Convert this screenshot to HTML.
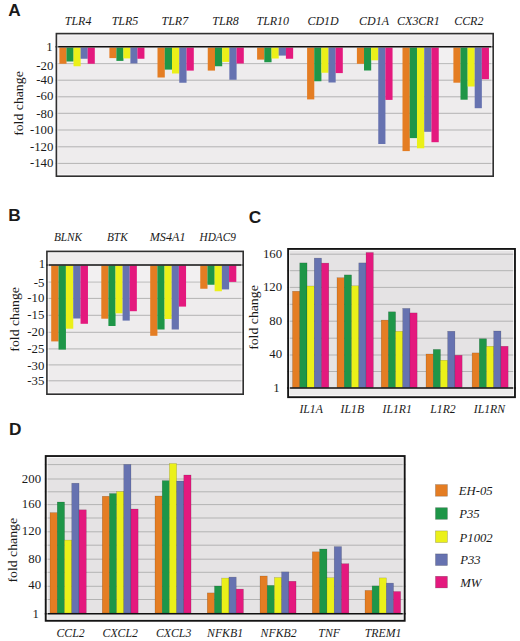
<!DOCTYPE html>
<html><head><meta charset="utf-8"><title>Fold change charts</title>
<style>
html,body{margin:0;padding:0;background:#fff;}
body{width:520px;height:641px;overflow:hidden;font-family:"Liberation Serif", serif;}
svg{display:block;}
text{fill:#1a1a1a;}
</style></head>
<body>
<svg width="520" height="641" viewBox="0 0 520 641">
<rect x="55.60" y="32.80" width="438.40" height="144.20" fill="#eeeced" />
<line x1="55.60" y1="63.60" x2="494.00" y2="63.60" stroke="#b3b3b3" stroke-width="1"/>
<line x1="55.60" y1="80.20" x2="494.00" y2="80.20" stroke="#b3b3b3" stroke-width="1"/>
<line x1="55.60" y1="96.80" x2="494.00" y2="96.80" stroke="#b3b3b3" stroke-width="1"/>
<line x1="55.60" y1="113.30" x2="494.00" y2="113.30" stroke="#b3b3b3" stroke-width="1"/>
<line x1="55.60" y1="130.00" x2="494.00" y2="130.00" stroke="#b3b3b3" stroke-width="1"/>
<line x1="55.60" y1="146.80" x2="494.00" y2="146.80" stroke="#b3b3b3" stroke-width="1"/>
<line x1="55.60" y1="163.40" x2="494.00" y2="163.40" stroke="#b3b3b3" stroke-width="1"/>
<rect x="55.60" y="47.60" width="438.40" height="15.50" fill="#f2f0f1" />
<rect x="59.40" y="47.60" width="7.12" height="16.15" fill="#e47d23" />
<rect x="66.47" y="47.60" width="7.12" height="13.90" fill="#1e9648" />
<rect x="73.54" y="47.60" width="7.12" height="18.65" fill="#ebf019" />
<rect x="80.61" y="47.60" width="7.12" height="11.15" fill="#6672b0" />
<rect x="87.68" y="47.60" width="7.12" height="16.15" fill="#e4197e" />
<rect x="109.40" y="47.60" width="7.05" height="10.50" fill="#e47d23" />
<rect x="116.40" y="47.60" width="7.05" height="13.30" fill="#1e9648" />
<rect x="123.40" y="47.60" width="7.05" height="10.80" fill="#ebf019" />
<rect x="130.40" y="47.60" width="7.05" height="15.80" fill="#6672b0" />
<rect x="137.40" y="47.60" width="7.05" height="11.15" fill="#e4197e" />
<rect x="157.50" y="47.60" width="7.30" height="29.90" fill="#e47d23" />
<rect x="164.75" y="47.60" width="7.30" height="22.00" fill="#1e9648" />
<rect x="172.00" y="47.60" width="7.30" height="25.90" fill="#ebf019" />
<rect x="179.25" y="47.60" width="7.30" height="35.15" fill="#6672b0" />
<rect x="186.50" y="47.60" width="7.30" height="23.00" fill="#e4197e" />
<rect x="207.75" y="47.60" width="7.25" height="23.00" fill="#e47d23" />
<rect x="214.95" y="47.60" width="7.25" height="18.65" fill="#1e9648" />
<rect x="222.15" y="47.60" width="7.25" height="14.30" fill="#ebf019" />
<rect x="229.35" y="47.60" width="7.25" height="32.15" fill="#6672b0" />
<rect x="236.55" y="47.60" width="7.25" height="15.90" fill="#e4197e" />
<rect x="257.10" y="47.60" width="7.25" height="12.00" fill="#e47d23" />
<rect x="264.30" y="47.60" width="7.25" height="14.65" fill="#1e9648" />
<rect x="271.50" y="47.60" width="7.25" height="10.90" fill="#ebf019" />
<rect x="278.70" y="47.60" width="7.25" height="8.00" fill="#6672b0" />
<rect x="285.90" y="47.60" width="7.25" height="11.15" fill="#e4197e" />
<rect x="307.10" y="47.60" width="7.18" height="51.80" fill="#e47d23" />
<rect x="314.23" y="47.60" width="7.18" height="33.65" fill="#1e9648" />
<rect x="321.36" y="47.60" width="7.18" height="25.15" fill="#ebf019" />
<rect x="328.49" y="47.60" width="7.18" height="34.90" fill="#6672b0" />
<rect x="335.62" y="47.60" width="7.18" height="25.50" fill="#e4197e" />
<rect x="356.90" y="47.60" width="7.17" height="16.20" fill="#e47d23" />
<rect x="364.02" y="47.60" width="7.17" height="22.90" fill="#1e9648" />
<rect x="371.14" y="47.60" width="7.17" height="12.70" fill="#ebf019" />
<rect x="378.26" y="47.60" width="7.17" height="96.40" fill="#6672b0" />
<rect x="385.38" y="47.60" width="7.17" height="52.30" fill="#e4197e" />
<rect x="402.50" y="47.60" width="7.29" height="103.50" fill="#e47d23" />
<rect x="409.74" y="47.60" width="7.29" height="90.50" fill="#1e9648" />
<rect x="416.98" y="47.60" width="7.29" height="100.70" fill="#ebf019" />
<rect x="424.22" y="47.60" width="7.29" height="84.20" fill="#6672b0" />
<rect x="431.46" y="47.60" width="7.29" height="94.60" fill="#e4197e" />
<rect x="453.40" y="47.60" width="7.15" height="35.10" fill="#e47d23" />
<rect x="460.50" y="47.60" width="7.15" height="52.10" fill="#1e9648" />
<rect x="467.60" y="47.60" width="7.15" height="38.90" fill="#ebf019" />
<rect x="474.70" y="47.60" width="7.15" height="60.60" fill="#6672b0" />
<rect x="481.80" y="47.60" width="7.15" height="31.60" fill="#e4197e" />
<line x1="55.60" y1="46.80" x2="494.00" y2="46.80" stroke="#111" stroke-width="1.6"/>
<rect x="57.70" y="34.90" width="434.20" height="140.00" fill="none" stroke="rgba(255,255,255,0.75)" stroke-width="1"/>
<rect x="56.40" y="33.60" width="436.80" height="142.60" fill="none" stroke="#303030" stroke-width="1.6"/>
<rect x="46.10" y="250.60" width="197.90" height="144.40" fill="#eeeced" />
<line x1="46.10" y1="282.00" x2="244.00" y2="282.00" stroke="#b3b3b3" stroke-width="1"/>
<line x1="46.10" y1="298.40" x2="244.00" y2="298.40" stroke="#b3b3b3" stroke-width="1"/>
<line x1="46.10" y1="315.30" x2="244.00" y2="315.30" stroke="#b3b3b3" stroke-width="1"/>
<line x1="46.10" y1="332.30" x2="244.00" y2="332.30" stroke="#b3b3b3" stroke-width="1"/>
<line x1="46.10" y1="348.90" x2="244.00" y2="348.90" stroke="#b3b3b3" stroke-width="1"/>
<line x1="46.10" y1="364.90" x2="244.00" y2="364.90" stroke="#b3b3b3" stroke-width="1"/>
<line x1="46.10" y1="380.80" x2="244.00" y2="380.80" stroke="#b3b3b3" stroke-width="1"/>
<rect x="46.10" y="265.80" width="197.90" height="15.50" fill="#f2f0f1" />
<rect x="51.20" y="265.60" width="7.39" height="75.80" fill="#e47d23" />
<rect x="58.54" y="265.60" width="7.39" height="84.00" fill="#1e9648" />
<rect x="65.88" y="265.60" width="7.39" height="63.10" fill="#ebf019" />
<rect x="73.22" y="265.60" width="7.39" height="52.90" fill="#6672b0" />
<rect x="80.56" y="265.60" width="7.39" height="58.20" fill="#e4197e" />
<rect x="101.30" y="265.60" width="7.15" height="53.10" fill="#e47d23" />
<rect x="108.40" y="265.60" width="7.15" height="60.40" fill="#1e9648" />
<rect x="115.50" y="265.60" width="7.15" height="47.70" fill="#ebf019" />
<rect x="122.60" y="265.60" width="7.15" height="55.00" fill="#6672b0" />
<rect x="129.70" y="265.60" width="7.15" height="45.60" fill="#e4197e" />
<rect x="150.20" y="265.60" width="7.21" height="70.20" fill="#e47d23" />
<rect x="157.36" y="265.60" width="7.21" height="63.90" fill="#1e9648" />
<rect x="164.52" y="265.60" width="7.21" height="53.40" fill="#ebf019" />
<rect x="171.68" y="265.60" width="7.21" height="63.90" fill="#6672b0" />
<rect x="178.84" y="265.60" width="7.21" height="41.00" fill="#e4197e" />
<rect x="200.25" y="265.60" width="7.25" height="23.15" fill="#e47d23" />
<rect x="207.45" y="265.60" width="7.25" height="19.15" fill="#1e9648" />
<rect x="214.65" y="265.60" width="7.25" height="25.65" fill="#ebf019" />
<rect x="221.85" y="265.60" width="7.25" height="23.80" fill="#6672b0" />
<rect x="229.05" y="265.60" width="7.25" height="16.30" fill="#e4197e" />
<line x1="46.10" y1="265.00" x2="244.00" y2="265.00" stroke="#111" stroke-width="1.7"/>
<rect x="48.20" y="252.70" width="193.70" height="140.20" fill="none" stroke="rgba(255,255,255,0.75)" stroke-width="1"/>
<rect x="46.90" y="251.40" width="196.30" height="142.80" fill="none" stroke="#303030" stroke-width="1.6"/>
<rect x="287.20" y="248.00" width="228.70" height="150.10" fill="#e5e3e4" />
<line x1="287.20" y1="254.20" x2="515.90" y2="254.20" stroke="#b3b3b3" stroke-width="1"/>
<line x1="287.20" y1="270.70" x2="515.90" y2="270.70" stroke="#b3b3b3" stroke-width="1"/>
<line x1="287.20" y1="287.40" x2="515.90" y2="287.40" stroke="#b3b3b3" stroke-width="1"/>
<line x1="287.20" y1="304.30" x2="515.90" y2="304.30" stroke="#b3b3b3" stroke-width="1"/>
<line x1="287.20" y1="321.20" x2="515.90" y2="321.20" stroke="#b3b3b3" stroke-width="1"/>
<line x1="287.20" y1="338.20" x2="515.90" y2="338.20" stroke="#b3b3b3" stroke-width="1"/>
<line x1="287.20" y1="355.00" x2="515.90" y2="355.00" stroke="#b3b3b3" stroke-width="1"/>
<line x1="287.20" y1="371.50" x2="515.90" y2="371.50" stroke="#b3b3b3" stroke-width="1"/>
<rect x="292.50" y="291.25" width="7.30" height="96.35" fill="#e47d23" stroke="rgba(0,0,0,0.25)" stroke-width="0.5"/>
<rect x="299.75" y="262.90" width="7.30" height="124.70" fill="#1e9648" stroke="rgba(0,0,0,0.25)" stroke-width="0.5"/>
<rect x="307.00" y="286.00" width="7.30" height="101.60" fill="#ebf019" stroke="rgba(0,0,0,0.25)" stroke-width="0.5"/>
<rect x="314.25" y="258.10" width="7.30" height="129.50" fill="#6672b0" stroke="rgba(0,0,0,0.25)" stroke-width="0.5"/>
<rect x="321.50" y="263.10" width="7.30" height="124.50" fill="#e4197e" stroke="rgba(0,0,0,0.25)" stroke-width="0.5"/>
<rect x="337.00" y="277.70" width="7.31" height="109.90" fill="#e47d23" stroke="rgba(0,0,0,0.25)" stroke-width="0.5"/>
<rect x="344.26" y="274.90" width="7.31" height="112.70" fill="#1e9648" stroke="rgba(0,0,0,0.25)" stroke-width="0.5"/>
<rect x="351.52" y="285.80" width="7.31" height="101.80" fill="#ebf019" stroke="rgba(0,0,0,0.25)" stroke-width="0.5"/>
<rect x="358.78" y="262.90" width="7.31" height="124.70" fill="#6672b0" stroke="rgba(0,0,0,0.25)" stroke-width="0.5"/>
<rect x="366.04" y="252.50" width="7.31" height="135.10" fill="#e4197e" stroke="rgba(0,0,0,0.25)" stroke-width="0.5"/>
<rect x="381.20" y="320.10" width="7.23" height="67.50" fill="#e47d23" stroke="rgba(0,0,0,0.25)" stroke-width="0.5"/>
<rect x="388.38" y="311.80" width="7.23" height="75.80" fill="#1e9648" stroke="rgba(0,0,0,0.25)" stroke-width="0.5"/>
<rect x="395.56" y="331.30" width="7.23" height="56.30" fill="#ebf019" stroke="rgba(0,0,0,0.25)" stroke-width="0.5"/>
<rect x="402.74" y="308.40" width="7.23" height="79.20" fill="#6672b0" stroke="rgba(0,0,0,0.25)" stroke-width="0.5"/>
<rect x="409.92" y="312.90" width="7.23" height="74.70" fill="#e4197e" stroke="rgba(0,0,0,0.25)" stroke-width="0.5"/>
<rect x="426.00" y="354.00" width="7.27" height="33.60" fill="#e47d23" stroke="rgba(0,0,0,0.25)" stroke-width="0.5"/>
<rect x="433.22" y="349.40" width="7.27" height="38.20" fill="#1e9648" stroke="rgba(0,0,0,0.25)" stroke-width="0.5"/>
<rect x="440.44" y="360.25" width="7.27" height="27.35" fill="#ebf019" stroke="rgba(0,0,0,0.25)" stroke-width="0.5"/>
<rect x="447.66" y="331.25" width="7.27" height="56.35" fill="#6672b0" stroke="rgba(0,0,0,0.25)" stroke-width="0.5"/>
<rect x="454.88" y="355.25" width="7.27" height="32.35" fill="#e4197e" stroke="rgba(0,0,0,0.25)" stroke-width="0.5"/>
<rect x="472.10" y="352.90" width="7.25" height="34.70" fill="#e47d23" stroke="rgba(0,0,0,0.25)" stroke-width="0.5"/>
<rect x="479.30" y="338.75" width="7.25" height="48.85" fill="#1e9648" stroke="rgba(0,0,0,0.25)" stroke-width="0.5"/>
<rect x="486.50" y="346.25" width="7.25" height="41.35" fill="#ebf019" stroke="rgba(0,0,0,0.25)" stroke-width="0.5"/>
<rect x="493.70" y="331.00" width="7.25" height="56.60" fill="#6672b0" stroke="rgba(0,0,0,0.25)" stroke-width="0.5"/>
<rect x="500.90" y="346.25" width="7.25" height="41.35" fill="#e4197e" stroke="rgba(0,0,0,0.25)" stroke-width="0.5"/>
<rect x="287.20" y="388.80" width="228.70" height="9.30" fill="#ecebeb" />
<line x1="287.20" y1="388.10" x2="515.90" y2="388.10" stroke="#111" stroke-width="1.5"/>
<rect x="289.55" y="250.35" width="224.00" height="145.40" fill="none" stroke="rgba(255,255,255,0.75)" stroke-width="1"/>
<rect x="288.12" y="248.93" width="226.85" height="148.25" fill="none" stroke="#141414" stroke-width="1.85"/>
<rect x="44.80" y="455.10" width="360.80" height="166.60" fill="#e5e3e4" />
<line x1="44.80" y1="464.60" x2="405.60" y2="464.60" stroke="#b3b3b3" stroke-width="1"/>
<line x1="44.80" y1="479.00" x2="405.60" y2="479.00" stroke="#b3b3b3" stroke-width="1"/>
<line x1="44.80" y1="491.80" x2="405.60" y2="491.80" stroke="#b3b3b3" stroke-width="1"/>
<line x1="44.80" y1="504.60" x2="405.60" y2="504.60" stroke="#b3b3b3" stroke-width="1"/>
<line x1="44.80" y1="518.00" x2="405.60" y2="518.00" stroke="#b3b3b3" stroke-width="1"/>
<line x1="44.80" y1="531.80" x2="405.60" y2="531.80" stroke="#b3b3b3" stroke-width="1"/>
<line x1="44.80" y1="545.20" x2="405.60" y2="545.20" stroke="#b3b3b3" stroke-width="1"/>
<line x1="44.80" y1="559.20" x2="405.60" y2="559.20" stroke="#b3b3b3" stroke-width="1"/>
<line x1="44.80" y1="572.30" x2="405.60" y2="572.30" stroke="#b3b3b3" stroke-width="1"/>
<line x1="44.80" y1="586.30" x2="405.60" y2="586.30" stroke="#b3b3b3" stroke-width="1"/>
<line x1="44.80" y1="599.50" x2="405.60" y2="599.50" stroke="#b3b3b3" stroke-width="1"/>
<rect x="50.00" y="512.60" width="7.30" height="100.40" fill="#e47d23" stroke="rgba(0,0,0,0.25)" stroke-width="0.5"/>
<rect x="57.25" y="502.00" width="7.30" height="111.00" fill="#1e9648" stroke="rgba(0,0,0,0.25)" stroke-width="0.5"/>
<rect x="64.50" y="540.10" width="7.30" height="72.90" fill="#ebf019" stroke="rgba(0,0,0,0.25)" stroke-width="0.5"/>
<rect x="71.75" y="483.20" width="7.30" height="129.80" fill="#6672b0" stroke="rgba(0,0,0,0.25)" stroke-width="0.5"/>
<rect x="79.00" y="509.80" width="7.30" height="103.20" fill="#e4197e" stroke="rgba(0,0,0,0.25)" stroke-width="0.5"/>
<rect x="102.25" y="496.25" width="7.22" height="116.75" fill="#e47d23" stroke="rgba(0,0,0,0.25)" stroke-width="0.5"/>
<rect x="109.42" y="493.50" width="7.22" height="119.50" fill="#1e9648" stroke="rgba(0,0,0,0.25)" stroke-width="0.5"/>
<rect x="116.59" y="491.50" width="7.22" height="121.50" fill="#ebf019" stroke="rgba(0,0,0,0.25)" stroke-width="0.5"/>
<rect x="123.76" y="464.40" width="7.22" height="148.60" fill="#6672b0" stroke="rgba(0,0,0,0.25)" stroke-width="0.5"/>
<rect x="130.93" y="509.00" width="7.22" height="104.00" fill="#e4197e" stroke="rgba(0,0,0,0.25)" stroke-width="0.5"/>
<rect x="155.00" y="496.00" width="7.25" height="117.00" fill="#e47d23" stroke="rgba(0,0,0,0.25)" stroke-width="0.5"/>
<rect x="162.20" y="480.60" width="7.25" height="132.40" fill="#1e9648" stroke="rgba(0,0,0,0.25)" stroke-width="0.5"/>
<rect x="169.40" y="463.50" width="7.25" height="149.50" fill="#ebf019" stroke="rgba(0,0,0,0.25)" stroke-width="0.5"/>
<rect x="176.60" y="481.00" width="7.25" height="132.00" fill="#6672b0" stroke="rgba(0,0,0,0.25)" stroke-width="0.5"/>
<rect x="183.80" y="475.00" width="7.25" height="138.00" fill="#e4197e" stroke="rgba(0,0,0,0.25)" stroke-width="0.5"/>
<rect x="207.25" y="592.90" width="7.28" height="20.10" fill="#e47d23" stroke="rgba(0,0,0,0.25)" stroke-width="0.5"/>
<rect x="214.48" y="586.00" width="7.28" height="27.00" fill="#1e9648" stroke="rgba(0,0,0,0.25)" stroke-width="0.5"/>
<rect x="221.71" y="578.10" width="7.28" height="34.90" fill="#ebf019" stroke="rgba(0,0,0,0.25)" stroke-width="0.5"/>
<rect x="228.94" y="577.10" width="7.28" height="35.90" fill="#6672b0" stroke="rgba(0,0,0,0.25)" stroke-width="0.5"/>
<rect x="236.17" y="589.10" width="7.28" height="23.90" fill="#e4197e" stroke="rgba(0,0,0,0.25)" stroke-width="0.5"/>
<rect x="260.00" y="576.00" width="7.25" height="37.00" fill="#e47d23" stroke="rgba(0,0,0,0.25)" stroke-width="0.5"/>
<rect x="267.20" y="585.40" width="7.25" height="27.60" fill="#1e9648" stroke="rgba(0,0,0,0.25)" stroke-width="0.5"/>
<rect x="274.40" y="577.50" width="7.25" height="35.50" fill="#ebf019" stroke="rgba(0,0,0,0.25)" stroke-width="0.5"/>
<rect x="281.60" y="571.90" width="7.25" height="41.10" fill="#6672b0" stroke="rgba(0,0,0,0.25)" stroke-width="0.5"/>
<rect x="288.80" y="581.25" width="7.25" height="31.75" fill="#e4197e" stroke="rgba(0,0,0,0.25)" stroke-width="0.5"/>
<rect x="312.30" y="551.80" width="7.35" height="61.20" fill="#e47d23" stroke="rgba(0,0,0,0.25)" stroke-width="0.5"/>
<rect x="319.60" y="549.00" width="7.35" height="64.00" fill="#1e9648" stroke="rgba(0,0,0,0.25)" stroke-width="0.5"/>
<rect x="326.90" y="577.70" width="7.35" height="35.30" fill="#ebf019" stroke="rgba(0,0,0,0.25)" stroke-width="0.5"/>
<rect x="334.20" y="546.60" width="7.35" height="66.40" fill="#6672b0" stroke="rgba(0,0,0,0.25)" stroke-width="0.5"/>
<rect x="341.50" y="563.70" width="7.35" height="49.30" fill="#e4197e" stroke="rgba(0,0,0,0.25)" stroke-width="0.5"/>
<rect x="365.00" y="590.40" width="7.17" height="22.60" fill="#e47d23" stroke="rgba(0,0,0,0.25)" stroke-width="0.5"/>
<rect x="372.12" y="585.90" width="7.17" height="27.10" fill="#1e9648" stroke="rgba(0,0,0,0.25)" stroke-width="0.5"/>
<rect x="379.24" y="577.90" width="7.17" height="35.10" fill="#ebf019" stroke="rgba(0,0,0,0.25)" stroke-width="0.5"/>
<rect x="386.36" y="583.10" width="7.17" height="29.90" fill="#6672b0" stroke="rgba(0,0,0,0.25)" stroke-width="0.5"/>
<rect x="393.48" y="591.50" width="7.17" height="21.50" fill="#e4197e" stroke="rgba(0,0,0,0.25)" stroke-width="0.5"/>
<rect x="44.80" y="614.40" width="360.80" height="7.30" fill="#ecebeb" />
<line x1="44.80" y1="613.70" x2="405.60" y2="613.70" stroke="#111" stroke-width="1.5"/>
<rect x="47.15" y="457.45" width="356.10" height="161.90" fill="none" stroke="rgba(255,255,255,0.75)" stroke-width="1"/>
<rect x="45.72" y="456.03" width="358.95" height="164.75" fill="none" stroke="#141414" stroke-width="1.85"/>
<rect x="435.50" y="484.60" width="11.90" height="11.60" fill="#e47d23" stroke="rgba(0,0,0,0.3)" stroke-width="0.6"/>
<rect x="435.50" y="507.70" width="11.90" height="11.60" fill="#1e9648" stroke="rgba(0,0,0,0.3)" stroke-width="0.6"/>
<rect x="435.50" y="530.90" width="11.90" height="11.60" fill="#ebf019" stroke="rgba(0,0,0,0.3)" stroke-width="0.6"/>
<rect x="435.50" y="553.90" width="11.90" height="11.60" fill="#6672b0" stroke="rgba(0,0,0,0.3)" stroke-width="0.6"/>
<rect x="435.50" y="576.30" width="11.90" height="11.60" fill="#e4197e" stroke="rgba(0,0,0,0.3)" stroke-width="0.6"/>
<text x="0" y="0" font-size="17.1" font-family='"Liberation Sans", sans-serif' font-weight="bold" transform="translate(8.31,16.30) scale(1.0100,1.0000)">A</text>
<text x="0" y="0" font-size="17.1" font-family='"Liberation Sans", sans-serif' font-weight="bold" transform="translate(8.15,221.25) scale(1.0100,1.0000)">B</text>
<text x="0" y="0" font-size="17.1" font-family='"Liberation Sans", sans-serif' font-weight="bold" transform="translate(248.67,223.44) scale(1.0100,1.0000)">C</text>
<text x="0" y="0" font-size="17.1" font-family='"Liberation Sans", sans-serif' font-weight="bold" transform="translate(9.02,434.58) scale(1.0100,1.0000)">D</text>
<text x="0" y="0" font-size="12.1" font-family='"Liberation Serif", serif' font-style="italic" transform="translate(64.78,24.99) scale(0.9896,1.0500)">TLR4</text>
<text x="0" y="0" font-size="12.1" font-family='"Liberation Serif", serif' font-style="italic" transform="translate(111.72,24.99) scale(0.9896,1.0500)">TLR5</text>
<text x="0" y="0" font-size="12.1" font-family='"Liberation Serif", serif' font-style="italic" transform="translate(161.57,24.99) scale(0.9896,1.0500)">TLR7</text>
<text x="0" y="0" font-size="12.1" font-family='"Liberation Serif", serif' font-style="italic" transform="translate(212.25,24.99) scale(0.9896,1.0500)">TLR8</text>
<text x="0" y="0" font-size="12.1" font-family='"Liberation Serif", serif' font-style="italic" transform="translate(256.51,24.99) scale(0.9896,1.0500)">TLR10</text>
<text x="0" y="0" font-size="12.1" font-family='"Liberation Serif", serif' font-style="italic" transform="translate(307.45,24.99) scale(0.9896,1.0500)">CD1D</text>
<text x="0" y="0" font-size="12.1" font-family='"Liberation Serif", serif' font-style="italic" transform="translate(359.05,24.99) scale(0.9896,1.0500)">CD1A</text>
<text x="0" y="0" font-size="12.1" font-family='"Liberation Serif", serif' font-style="italic" transform="translate(397.11,24.99) scale(0.9896,1.0500)">CX3CR1</text>
<text x="0" y="0" font-size="12.1" font-family='"Liberation Serif", serif' font-style="italic" transform="translate(454.15,24.99) scale(0.9896,1.0500)">CCR2</text>
<text x="0" y="0" font-size="11.7" font-family='"Liberation Serif", serif' font-style="italic" transform="translate(53.89,241.25) scale(0.9648,1.0400)">BLNK</text>
<text x="0" y="0" font-size="11.7" font-family='"Liberation Serif", serif' font-style="italic" transform="translate(106.99,241.25) scale(0.9648,1.0400)">BTK</text>
<text x="0" y="0" font-size="11.7" font-family='"Liberation Serif", serif' font-style="italic" transform="translate(149.67,241.25) scale(1.0420,1.0400)">MS4A1</text>
<text x="0" y="0" font-size="11.7" font-family='"Liberation Serif", serif' font-style="italic" transform="translate(199.54,241.25) scale(0.9648,1.0400)">HDAC9</text>
<text x="0" y="0" font-size="11.4" font-family='"Liberation Serif", serif' font-style="italic" transform="translate(299.42,413.46) scale(1.0300,1.0600)">IL1A</text>
<text x="0" y="0" font-size="11.4" font-family='"Liberation Serif", serif' font-style="italic" transform="translate(340.59,413.46) scale(1.0300,1.0600)">IL1B</text>
<text x="0" y="0" font-size="11.4" font-family='"Liberation Serif", serif' font-style="italic" transform="translate(382.56,413.46) scale(1.0300,1.0600)">IL1R1</text>
<text x="0" y="0" font-size="11.4" font-family='"Liberation Serif", serif' font-style="italic" transform="translate(430.28,413.46) scale(1.0300,1.0600)">L1R2</text>
<text x="0" y="0" font-size="11.4" font-family='"Liberation Serif", serif' font-style="italic" transform="translate(473.81,413.46) scale(1.0300,1.0600)">IL1RN</text>
<text x="0" y="0" font-size="11.5" font-family='"Liberation Serif", serif' font-style="italic" transform="translate(56.49,637.23) scale(1.0251,1.0000)">CCL2</text>
<text x="0" y="0" font-size="11.5" font-family='"Liberation Serif", serif' font-style="italic" transform="translate(102.58,637.23) scale(1.0251,1.0000)">CXCL2</text>
<text x="0" y="0" font-size="11.5" font-family='"Liberation Serif", serif' font-style="italic" transform="translate(155.95,637.23) scale(1.0251,1.0000)">CXCL3</text>
<text x="0" y="0" font-size="11.5" font-family='"Liberation Serif", serif' font-style="italic" transform="translate(207.07,637.23) scale(1.0251,1.0000)">NFKB1</text>
<text x="0" y="0" font-size="11.5" font-family='"Liberation Serif", serif' font-style="italic" transform="translate(260.60,637.23) scale(1.0251,1.0000)">NFKB2</text>
<text x="0" y="0" font-size="11.5" font-family='"Liberation Serif", serif' font-style="italic" transform="translate(318.37,637.23) scale(1.0251,1.0000)">TNF</text>
<text x="0" y="0" font-size="11.5" font-family='"Liberation Serif", serif' font-style="italic" transform="translate(364.75,637.23) scale(1.0251,1.0000)">TREM1</text>
<text x="0" y="0" font-size="12.5" font-family='"Liberation Serif", serif' font-style="italic" transform="translate(458.78,495.12) scale(1.0147,1.0700)">EH-05</text>
<text x="0" y="0" font-size="12.5" font-family='"Liberation Serif", serif' font-style="italic" transform="translate(459.19,518.22) scale(1.0147,1.0700)">P35</text>
<text x="0" y="0" font-size="12.5" font-family='"Liberation Serif", serif' font-style="italic" transform="translate(459.60,542.03) scale(1.0147,1.0700)">P1002</text>
<text x="0" y="0" font-size="12.5" font-family='"Liberation Serif", serif' font-style="italic" transform="translate(460.16,564.34) scale(1.0147,1.0700)">P33</text>
<text x="0" y="0" font-size="12.5" font-family='"Liberation Serif", serif' font-style="italic" transform="translate(460.28,586.90) scale(1.0147,1.0700)">MW</text>
<text x="0" y="0" font-size="13.0" font-family='"Liberation Serif", serif' transform="translate(23.37,135.84) rotate(-90) scale(1.0605,1.0000)">fold change</text>
<text x="0" y="0" font-size="13.0" font-family='"Liberation Serif", serif' transform="translate(19.02,351.64) rotate(-90) scale(1.0605,1.0000)">fold change</text>
<text x="0" y="0" font-size="13.0" font-family='"Liberation Serif", serif' transform="translate(257.50,349.84) rotate(-90) scale(1.0605,1.0000)">fold change</text>
<text x="0" y="0" font-size="13.0" font-family='"Liberation Serif", serif' transform="translate(17.49,582.55) rotate(-90) scale(1.0605,1.0000)">fold change</text>
<text x="0" y="0" font-size="12.8" text-anchor="end" font-family='"Liberation Serif", serif' transform="translate(53.35,69.55) scale(1.0,1.05)">-20</text>
<text x="0" y="0" font-size="12.8" text-anchor="end" font-family='"Liberation Serif", serif' transform="translate(53.35,84.00) scale(1.0,1.05)">-40</text>
<text x="0" y="0" font-size="12.8" text-anchor="end" font-family='"Liberation Serif", serif' transform="translate(53.35,99.65) scale(1.0,1.05)">-60</text>
<text x="0" y="0" font-size="12.8" text-anchor="end" font-family='"Liberation Serif", serif' transform="translate(53.35,117.55) scale(1.0,1.05)">-80</text>
<text x="0" y="0" font-size="12.8" text-anchor="end" font-family='"Liberation Serif", serif' transform="translate(53.35,134.00) scale(1.0,1.05)">-100</text>
<text x="0" y="0" font-size="12.8" text-anchor="end" font-family='"Liberation Serif", serif' transform="translate(53.35,150.50) scale(1.0,1.05)">-120</text>
<text x="0" y="0" font-size="12.8" text-anchor="end" font-family='"Liberation Serif", serif' transform="translate(53.35,166.90) scale(1.0,1.05)">-140</text>
<text x="0" y="0" font-size="12.8" text-anchor="end" font-family='"Liberation Serif", serif' transform="translate(44.35,286.50) scale(1.0,1.05)">-5</text>
<text x="0" y="0" font-size="12.8" text-anchor="end" font-family='"Liberation Serif", serif' transform="translate(44.35,302.20) scale(1.0,1.05)">-10</text>
<text x="0" y="0" font-size="12.8" text-anchor="end" font-family='"Liberation Serif", serif' transform="translate(44.35,318.55) scale(1.0,1.05)">-15</text>
<text x="0" y="0" font-size="12.8" text-anchor="end" font-family='"Liberation Serif", serif' transform="translate(44.35,335.80) scale(1.0,1.05)">-20</text>
<text x="0" y="0" font-size="12.8" text-anchor="end" font-family='"Liberation Serif", serif' transform="translate(44.35,352.70) scale(1.0,1.05)">-25</text>
<text x="0" y="0" font-size="12.8" text-anchor="end" font-family='"Liberation Serif", serif' transform="translate(44.35,369.60) scale(1.0,1.05)">-30</text>
<text x="0" y="0" font-size="12.8" text-anchor="end" font-family='"Liberation Serif", serif' transform="translate(44.35,384.80) scale(1.0,1.05)">-35</text>
<text x="0" y="0" font-size="12.8" text-anchor="end" font-family='"Liberation Serif", serif' transform="translate(282.15,258.30) scale(1.0,1.05)">160</text>
<text x="0" y="0" font-size="12.8" text-anchor="end" font-family='"Liberation Serif", serif' transform="translate(282.15,290.90) scale(1.0,1.05)">120</text>
<text x="0" y="0" font-size="12.8" text-anchor="end" font-family='"Liberation Serif", serif' transform="translate(282.15,325.30) scale(1.0,1.05)">80</text>
<text x="0" y="0" font-size="12.8" text-anchor="end" font-family='"Liberation Serif", serif' transform="translate(282.15,358.40) scale(1.0,1.05)">40</text>
<text x="0" y="0" font-size="12.8" text-anchor="end" font-family='"Liberation Serif", serif' transform="translate(41.05,483.10) scale(1.0,1.05)">200</text>
<text x="0" y="0" font-size="12.8" text-anchor="end" font-family='"Liberation Serif", serif' transform="translate(41.05,508.40) scale(1.0,1.05)">160</text>
<text x="0" y="0" font-size="12.8" text-anchor="end" font-family='"Liberation Serif", serif' transform="translate(41.05,535.30) scale(1.0,1.05)">120</text>
<text x="0" y="0" font-size="12.8" text-anchor="end" font-family='"Liberation Serif", serif' transform="translate(41.05,563.40) scale(1.0,1.05)">80</text>
<text x="0" y="0" font-size="12.8" text-anchor="end" font-family='"Liberation Serif", serif' transform="translate(41.05,589.05) scale(1.0,1.05)">40</text>
<text x="0" y="0" font-size="12.8" font-family='"Liberation Serif", serif' transform="translate(46.26,51.19) scale(1.0,1.05)">1</text>
<text x="0" y="0" font-size="12.8" font-family='"Liberation Serif", serif' transform="translate(38.66,268.04) scale(1.0,1.05)">1</text>
<text x="0" y="0" font-size="12.8" font-family='"Liberation Serif", serif' transform="translate(273.36,391.84) scale(1.0,1.05)">1</text>
<text x="0" y="0" font-size="12.8" font-family='"Liberation Serif", serif' transform="translate(32.51,618.14) scale(1.0,1.05)">1</text>
</svg>
</body></html>
